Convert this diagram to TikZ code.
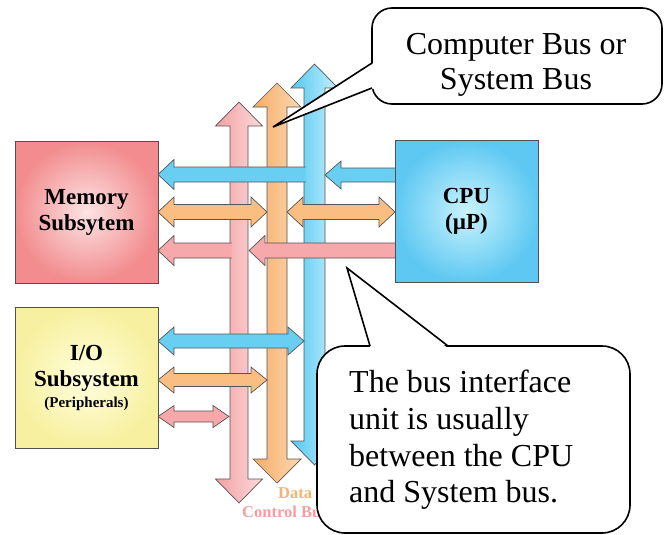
\documentclass[tikz,border=0pt]{standalone}
\usepackage{fontspec}
\setmainfont{Liberation Serif}
\definecolor{edgegray}{RGB}{85,85,85}
\definecolor{boxgray}{RGB}{80,80,80}
\definecolor{pinkdk}{RGB}{243,160,162}
\definecolor{pinklt}{RGB}{252,218,220}
\definecolor{orangedk}{RGB}{247,172,104}
\definecolor{orangelt}{RGB}{252,216,176}
\definecolor{bluedk}{RGB}{84,200,242}
\definecolor{bluelt}{RGB}{196,240,252}
\definecolor{hpink}{RGB}{246,168,170}
\definecolor{horange}{RGB}{250,190,130}
\definecolor{hblue}{RGB}{104,206,242}
\definecolor{memdk}{RGB}{242,140,142}
\definecolor{memlt}{RGB}{252,228,228}
\definecolor{cpudk}{RGB}{94,200,242}
\definecolor{cpult}{RGB}{202,243,253}
\definecolor{iodk}{RGB}{247,240,160}
\definecolor{iolt}{RGB}{255,255,222}
\definecolor{datatext}{RGB}{246,180,112}
\definecolor{ctrltext}{RGB}{244,158,160}
\tikzset{
  busbar/.style={draw=edgegray, line width=0.7pt},
  busarrow/.style={draw=edgegray, line width=0.7pt},
  unitbox/.style={draw=boxgray, line width=0.9pt, minimum width=143pt,
    minimum height=142pt, align=center, font=\bfseries\fontsize{23}{26}\selectfont},
  callout/.style={draw=black, fill=white, line width=1.6pt},
  notetext/.style={inner sep=0pt, font=\fontsize{32}{35}\selectfont},
  buslabel/.style={inner sep=0pt, anchor=base west, font=\bfseries\fontsize{16.5}{18}\selectfont}
}
% vertical bus: left colour, right colour, x, shaft half, head half, top tip, bottom tip
\newcommand{\vbus}[7]{%
  \shadedraw[busbar, left color=#1, right color=#2]
  (#3,#6) -- (#3+#5,#6+24) -- (#3+#4,#6+24) -- (#3+#4,#7-24) -- (#3+#5,#7-24)
  -- (#3,#7) -- (#3-#5,#7-24) -- (#3-#4,#7-24) -- (#3-#4,#6+24) -- (#3-#5,#6+24) -- cycle;}
% two-headed arrow: colour, y, left tip, right tip, shaft half
\newcommand{\dblbus}[5]{%
  \filldraw[busarrow, fill=#1]
  (#3,#2) -- (#3+16,#2-2*#5) -- (#3+16,#2-#5) -- (#4-16,#2-#5) -- (#4-16,#2-2*#5)
  -- (#4,#2) -- (#4-16,#2+2*#5) -- (#4-16,#2+#5) -- (#3+16,#2+#5) -- (#3+16,#2+2*#5) -- cycle;}
% arrow to the left with open tail: colour, y, tip, tail, shaft half
\newcommand{\leftbus}[5]{%
  \filldraw[busarrow, fill=#1]
  (#4,#2-#5) -- (#3+16,#2-#5) -- (#3+16,#2-2*#5) -- (#3,#2)
  -- (#3+16,#2+2*#5) -- (#3+16,#2+#5) -- (#4,#2+#5);}
\begin{document}
\begin{tikzpicture}[x=1pt,y=-1pt]
\useasboundingbox (0,0) rectangle (667,535);
% buses
\vbus{pinkdk}{pinklt}{239}{9}{23.5}{102}{503}
\vbus{orangedk}{orangelt}{277}{10}{24}{83}{483}
\vbus{bluedk}{bluelt}{314.5}{10.5}{23.5}{64}{465}
% memory side
\leftbus{hblue}{174.5}{158}{305.5}{7.5}
\dblbus{horange}{212}{158}{267}{7.5}
\leftbus{hpink}{250.5}{158}{231.5}{7.5}
% cpu side
\leftbus{hblue}{175}{325}{396}{7}
\dblbus{horange}{212}{287}{395}{7.5}
\leftbus{hpink}{250.5}{249}{396}{7.5}
% i/o side
\dblbus{hblue}{341}{158}{304}{7}
\dblbus{horange}{380}{158}{267}{6.5}
\dblbus{hpink}{416.5}{158}{229}{5.5}
% units
\node[unitbox, inner color=memlt, outer color=memdk] (mem) at (86.5,212) {Memory\\Subsytem};
\node[unitbox, inner color=cpult, outer color=cpudk] (cpu) at (466.5,211.5) {CPU\\(µP)};
\node[unitbox, minimum height=141pt, inner color=iolt, outer color=iodk] (io) at (86.5,377.5)
  {I/O\\Subsystem\\[-5pt]{\fontsize{15}{18}\selectfont(Peripherals)}};
\node[buslabel, text=datatext] (datalabel) at (278,498) {Data Bus};
\node[buslabel, text=ctrltext] (ctrllabel) at (242,517) {Control Bus};
% callouts
\draw[callout, rounded corners=20pt] (372,8) rectangle (662,104);
\coordinate (bustip) at (273,127);
\fill[white] (374,62.5) -- (bustip) -- (374,88.5) -- cycle;
\draw[line width=1.6pt, line join=miter] (372,63) -- (bustip) -- (372,88);
\node[notetext, anchor=north, align=center] (busnote) at (516,33.5) {Computer Bus or\\System Bus};
\draw[callout, rounded corners=28pt] (317,346) rectangle (630,533);
\coordinate (biutip) at (347,268);
\fill[white] (370.5,348) -- (biutip) -- (447.5,348) -- cycle;
\draw[line width=1.6pt, line join=miter] (370,346) -- (biutip) -- (448,346);
\node[notetext, anchor=north west, align=left, font=\fontsize{32}{36.7}\selectfont] (biunote) at (349,370)
  {The bus interface\\unit is usually\\between the CPU\\and System bus.};
\end{tikzpicture}
\end{document}
